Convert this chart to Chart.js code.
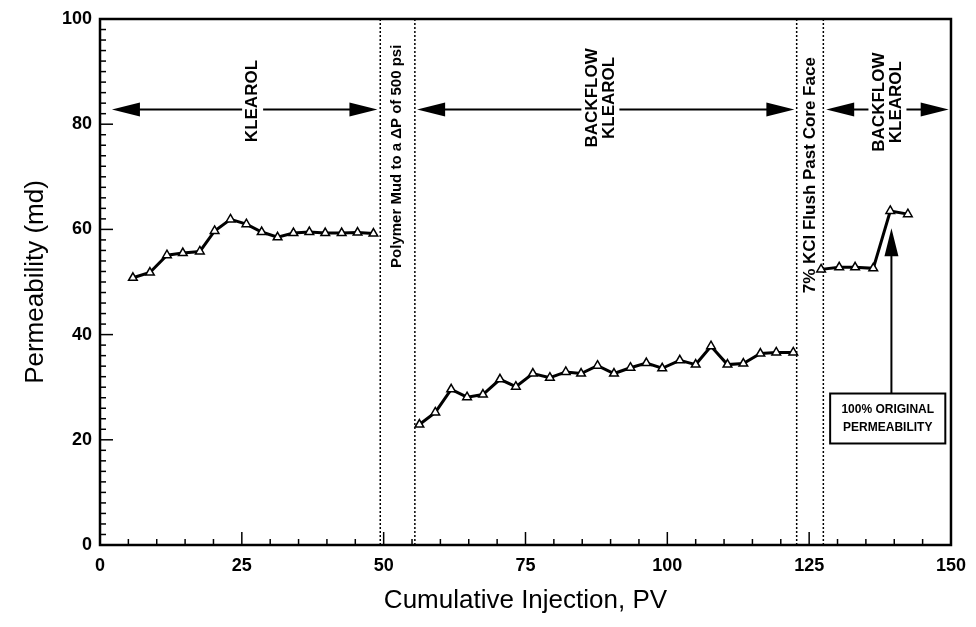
<!DOCTYPE html>
<html lang="en">
  <head>
    <meta charset="UTF-8" />
    <title>Permeability vs Cumulative Injection</title>
    <script src="https://cdn.jsdelivr.net/npm/chart.js"></script>
    <style>
      html, body { margin: 0; padding: 0; background: #fff; }
      #wrap { width: 976px; height: 627px; }
    </style>
  </head>
  <body>
    <div id="wrap"><canvas id="permChart" width="976" height="627"></canvas></div>
    <script>
      // KLEAROL injection
      const klearolX = [5.8, 8.8, 11.8, 14.6, 17.6, 20.2, 23.0, 25.8, 28.5, 31.3, 34.1, 36.9, 39.7, 42.6, 45.4, 48.2];
      const klearolY = [50.8, 51.8, 55.1, 55.5, 55.8, 59.7, 61.9, 61.0, 59.5, 58.5, 59.3, 59.5, 59.3, 59.3, 59.4, 59.2];
      // backflow KLEAROL after polymer mud
      const backflowX = [56.3, 59.1, 61.9, 64.7, 67.5, 70.5, 73.3, 76.3, 79.3, 82.1, 84.8, 87.7, 90.6, 93.5, 96.3, 99.1, 102.2, 105.0, 107.7, 110.6, 113.4, 116.4, 119.2, 122.2];
      const backflowY = [22.9, 25.2, 29.6, 28.1, 28.6, 31.5, 30.1, 32.6, 31.8, 32.9, 32.6, 34.1, 32.6, 33.7, 34.6, 33.6, 35.1, 34.3, 37.8, 34.3, 34.5, 36.4, 36.6, 36.6];
      // backflow KLEAROL after KCl flush
      const kclX = [127.1, 130.3, 133.1, 136.3, 139.3, 142.4];
      const kclY = [52.4, 52.8, 52.8, 52.6, 63.5, 62.9];

      const xTicks = [0, 25, 50, 75, 100, 125, 150];
      const yTicks = [0, 20, 40, 60, 80, 100];

      const toPoints = (xs, ys) => xs.map((x, i) => ({ x: x, y: ys[i] }));

      function series(xs, ys) {
        return {
          data: toPoints(xs, ys),
          showLine: true,
          borderColor: '#000',
          borderWidth: 3,
          pointStyle: 'triangle',
          pointRadius: 5,
          pointBackgroundColor: '#fff',
          pointBorderColor: '#000',
          pointBorderWidth: 1.5,
          tension: 0
        };
      }

      const BOLD = '"Liberation Sans", Arial, sans-serif';

      function arrowHead(ctx, x, y, dir) {
        // dir: 'left' | 'right' | 'up'
        ctx.beginPath();
        if (dir === 'left') {
          ctx.moveTo(x, y); ctx.lineTo(x + 28, y - 7); ctx.lineTo(x + 28, y + 7);
        } else if (dir === 'right') {
          ctx.moveTo(x, y); ctx.lineTo(x - 28, y - 7); ctx.lineTo(x - 28, y + 7);
        } else {
          ctx.moveTo(x, y); ctx.lineTo(x - 7, y + 28); ctx.lineTo(x + 7, y + 28);
        }
        ctx.closePath();
        ctx.fill();
      }

      function vText(ctx, lines, x, y, size) {
        ctx.save();
        ctx.translate(x, y);
        ctx.rotate(-Math.PI / 2);
        ctx.font = 'bold ' + size + 'px ' + BOLD;
        ctx.textAlign = 'center';
        ctx.textBaseline = 'middle';
        const lh = size * 1.0;
        const off = (lines.length - 1) * lh / 2;
        let w = 0;
        lines.forEach(l => { w = Math.max(w, ctx.measureText(l).width); });
        ctx.fillStyle = '#fff';
        ctx.fillRect(-w / 2 - 6, -off - size / 2 - 2, w + 12, lines.length * lh + 4);
        ctx.fillStyle = '#000';
        lines.forEach((l, i) => ctx.fillText(l, 0, -off + i * lh));
        ctx.restore();
      }

      const decor = {
        id: 'decor',
        beforeDatasetsDraw(chart) {
          const { ctx, chartArea: a, scales: { x, y } } = chart;
          ctx.save();
          // dotted phase boundaries
          ctx.strokeStyle = '#000';
          ctx.lineWidth = 1.5;
          ctx.setLineDash([2, 2]);
          [49.4, 55.5, 122.8, 127.5].forEach(v => {
            const px = x.getPixelForValue(v);
            ctx.beginPath(); ctx.moveTo(px, a.top); ctx.lineTo(px, a.bottom); ctx.stroke();
          });
          ctx.setLineDash([]);

          // horizontal double arrows
          ctx.fillStyle = '#000';
          ctx.lineWidth = 2;
          const ay = y.getPixelForValue(82.8);
          [[2.1, 48.9], [55.9, 122.4], [128.0, 149.6]].forEach(([s, e]) => {
            const ps = x.getPixelForValue(s), pe = x.getPixelForValue(e);
            ctx.beginPath(); ctx.moveTo(ps + 10, ay); ctx.lineTo(pe - 10, ay); ctx.stroke();
            arrowHead(ctx, ps, ay, 'left');
            arrowHead(ctx, pe, ay, 'right');
          });
          vText(ctx, ['KLEAROL'], x.getPixelForValue(26.9), y.getPixelForValue(84.4), 17);
          vText(ctx, ['BACKFLOW', 'KLEAROL'], x.getPixelForValue(88.2), y.getPixelForValue(85.0), 17);
          vText(ctx, ['BACKFLOW', 'KLEAROL'], x.getPixelForValue(138.8), y.getPixelForValue(84.2), 17);
          vText(ctx, ['Polymer Mud to a \u0394P of 500 psi'], x.getPixelForValue(52.4), y.getPixelForValue(73.9), 15);
          vText(ctx, ['7% KCl Flush Past Core Face'], x.getPixelForValue(125.2), y.getPixelForValue(70.3), 17);

          // note box with arrow
          const bx1 = x.getPixelForValue(128.7), bx2 = x.getPixelForValue(149.0);
          const by1 = y.getPixelForValue(28.8), by2 = y.getPixelForValue(19.3);
          const axp = x.getPixelForValue(139.5);
          ctx.lineWidth = 2;
          ctx.beginPath(); ctx.moveTo(axp, by1); ctx.lineTo(axp, y.getPixelForValue(58)); ctx.stroke();
          arrowHead(ctx, axp, y.getPixelForValue(60.2), 'up');
          ctx.fillStyle = '#fff';
          ctx.fillRect(bx1, by1, bx2 - bx1, by2 - by1);
          ctx.strokeRect(bx1, by1, bx2 - bx1, by2 - by1);
          ctx.fillStyle = '#000';
          ctx.font = 'bold 12px ' + BOLD;
          ctx.textAlign = 'center';
          ctx.textBaseline = 'middle';
          const cx = (bx1 + bx2) / 2;
          ctx.fillText('100% ORIGINAL', cx, by1 + 16);
          ctx.fillText('PERMEABILITY', cx, by1 + 34);
          ctx.restore();
        },
        afterDraw(chart) {
          const { ctx, chartArea: a, scales: { x, y } } = chart;
          ctx.save();
          ctx.strokeStyle = '#000';
          ctx.lineWidth = 1.5;
          // inward ticks
          for (let v = 0; v <= 100; v += 2) {
            const py = y.getPixelForValue(v);
            const len = v % 20 === 0 ? 13 : 6;
            ctx.beginPath(); ctx.moveTo(a.left, py); ctx.lineTo(a.left + len, py); ctx.stroke();
          }
          for (let v = 0; v <= 150; v += 5) {
            const px = x.getPixelForValue(v);
            const len = v % 25 === 0 ? 13 : 6;
            ctx.beginPath(); ctx.moveTo(px, a.bottom); ctx.lineTo(px, a.bottom - len); ctx.stroke();
          }
          // frame
          ctx.lineWidth = 2.5;
          ctx.strokeRect(a.left, a.top, a.right - a.left, a.bottom - a.top);
          ctx.restore();
        }
      };

      new Chart(document.getElementById('permChart').getContext('2d'), {
        type: 'scatter',
        data: {
          datasets: [
            series(klearolX, klearolY),
            series(backflowX, backflowY),
            series(kclX, kclY)
          ]
        },
        options: {
          responsive: false,
          animation: false,
          layout: { padding: { left: 0, right: 23, top: 19, bottom: 0 } },
          plugins: {
            legend: { display: false },
            tooltip: { enabled: false }
          },
          scales: {
            x: {
              type: 'linear',
              min: 0,
              max: 150,
              afterBuildTicks: s => { s.ticks = xTicks.map(v => ({ value: v })); },
              afterFit: s => { s.height = 82; },
              grid: { display: false, drawTicks: false },
              border: { display: false },
              ticks: {
                color: '#000',
                padding: 10,
                maxRotation: 0,
                font: { family: BOLD, size: 18, weight: 'bold' }
              },
              title: {
                display: true,
                text: 'Cumulative Injection, PV',
                color: '#000',
                padding: { top: 0, bottom: 11 },
                font: { family: BOLD, size: 26 }
              }
            },
            y: {
              type: 'linear',
              min: 0,
              max: 100,
              afterBuildTicks: s => { s.ticks = yTicks.map(v => ({ value: v })); },
              afterFit: s => { s.width = 100; },
              grid: { display: false, drawTicks: false },
              border: { display: false },
              ticks: {
                color: '#000',
                padding: 8,
                font: { family: BOLD, size: 18, weight: 'bold' }
              },
              title: {
                display: true,
                text: 'Permeability (md)',
                color: '#000',
                padding: { top: 20, bottom: 0 },
                font: { family: BOLD, size: 26 }
              }
            }
          }
        },
        plugins: [decor]
      });
    </script>
  </body>
</html>
